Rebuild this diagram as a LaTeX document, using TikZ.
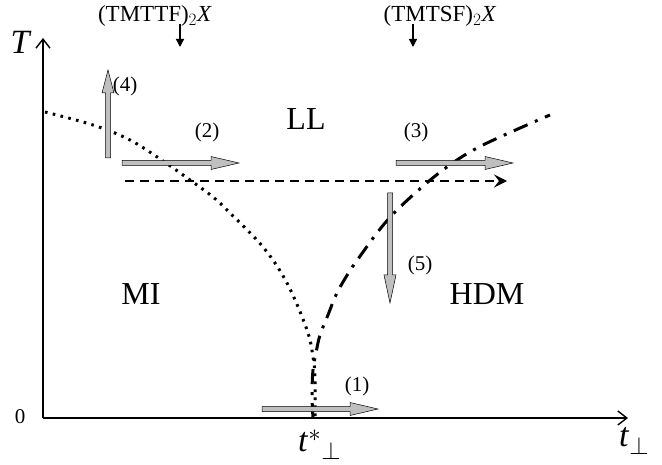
\documentclass[tikz,border=0pt]{standalone}
\usepackage{fontspec}
\setmainfont{Liberation Serif}
\usetikzlibrary{arrows.meta}
\tikzset{
  axis/.style={line width=1.3pt,-{Straight Barb[length=9pt,width=14pt,line width=1.4pt]}},
  lab/.style={font=\fontsize{21}{24}\selectfont, inner sep=0pt},
  big/.style={font=\fontsize{32}{36}\selectfont, inner sep=0pt},
  top/.style={font=\fontsize{23}{26}\selectfont, inner sep=0pt},
  axlab/.style={font=\fontsize{34}{38}\selectfont, inner sep=0pt},
  garrow/.style={fill=black!25, draw=black, line width=0.5pt},
  dotcurve/.style={line width=3pt, dash pattern=on 2.6pt off 5.4pt},
  dashdot/.style={line width=3pt, dash pattern=on 15pt off 8pt on 3pt off 8pt},
  dashline/.style={line width=1.4pt, dash pattern=on 9pt off 6pt, -{Stealth[length=13pt,width=13pt,inset=5pt]}},
  small/.style={line width=1.3pt,-{Triangle[length=8pt,width=8pt]}}
}
\newcommand\harrowR[3]{% x1 x2 y
  \filldraw[garrow] (#1,#3-2.5) -- (#2-28,#3-2.5) -- (#2-28,#3-6.5) -- (#2,#3) -- (#2-28,#3+6.5) -- (#2-28,#3+2.5) -- (#1,#3+2.5) -- cycle;}
\newcommand\varrowU[3]{% x y1(bottom) y2(tip)
  \filldraw[garrow] (#1-2.5,#2) -- (#1-2.5,#3+23) -- (#1-6,#3+23) -- (#1,#3) -- (#1+6,#3+23) -- (#1+2.5,#3+23) -- (#1+2.5,#2) -- cycle;}
\newcommand\varrowD[3]{% x y1(top) y2(tip)
  \filldraw[garrow] (#1-2.5,#2) -- (#1-2.5,#3-28) -- (#1-6,#3-28) -- (#1,#3) -- (#1+6,#3-28) -- (#1+2.5,#3-28) -- (#1+2.5,#2) -- cycle;}
\begin{document}
\begin{tikzpicture}[x=1pt,y=-1pt]
\useasboundingbox (0,0) rectangle (662,465);
% axes
\coordinate (O) at (43,418);
\coordinate (Ytip) at (43,38);
\coordinate (Xtip) at (628,418);
\draw[axis] (O) -- (Ytip);
\draw[axis] (O) -- (Xtip);
\node[axlab] (Tlab) at (21,42) {\textit{T}};
\node[lab] (zero) at (20,417) {0};
\node[axlab, anchor=base west] (tperp) at (619,446) {\textit{t}$_{\perp}$};
\node[axlab, anchor=base west] (tstar) at (298,451) {\textit{t}$^{*}{}_{\perp}$};
% curves
\draw[dotcurve] plot[smooth, tension=0.6] coordinates {(45,112) (93,125) (130,140) (163,161) (190,180) (213,197) (230,213) (263,247) (287,283) (307,330) (313,357) (315,377) (315,418)};
\draw[dashdot] plot[smooth, tension=0.6] coordinates {(313,418) (312,395) (313,370) (316,353) (320,335) (328,315) (336,295) (346,277) (358,259) (385,223) (413,195) (447,167) (483,145) (550,115)};
% dashed arrow
\coordinate (dA) at (125,181);
\coordinate (dB) at (507,181);
\draw[dashline] (dA) -- (dB);
% gray arrows
\harrowR{122}{239}{163}
\harrowR{396}{513}{163}
\harrowR{262}{378}{409}
\varrowU{108}{158}{70}
\varrowD{390}{193}{303}
% labels
\node[lab] (l4) at (125,86) {(4)};
\node[lab] (l2) at (207,132) {(2)};
\node[lab] (l3) at (416,132) {(3)};
\node[lab] (l5) at (420,265) {(5)};
\node[lab] (l1) at (357,386) {(1)};
\node[big] (LL) at (306,119) {LL};
\node[big] (MI) at (141,294) {MI};
\node[big] (HDM) at (487,294) {HDM};
% top labels
\node[top] (tmttf) at (155,16) {(TMTTF)$_2$\textit{X}};
\node[top] (tmtsf) at (440,16) {(TMTSF)$_2$\textit{X}};
\coordinate (a1s) at (180,24);
\coordinate (a1e) at (180,47);
\coordinate (a2s) at (413,24);
\coordinate (a2e) at (413,47);
\draw[small] (a1s) -- (a1e);
\draw[small] (a2s) -- (a2e);
\end{tikzpicture}
\end{document}
